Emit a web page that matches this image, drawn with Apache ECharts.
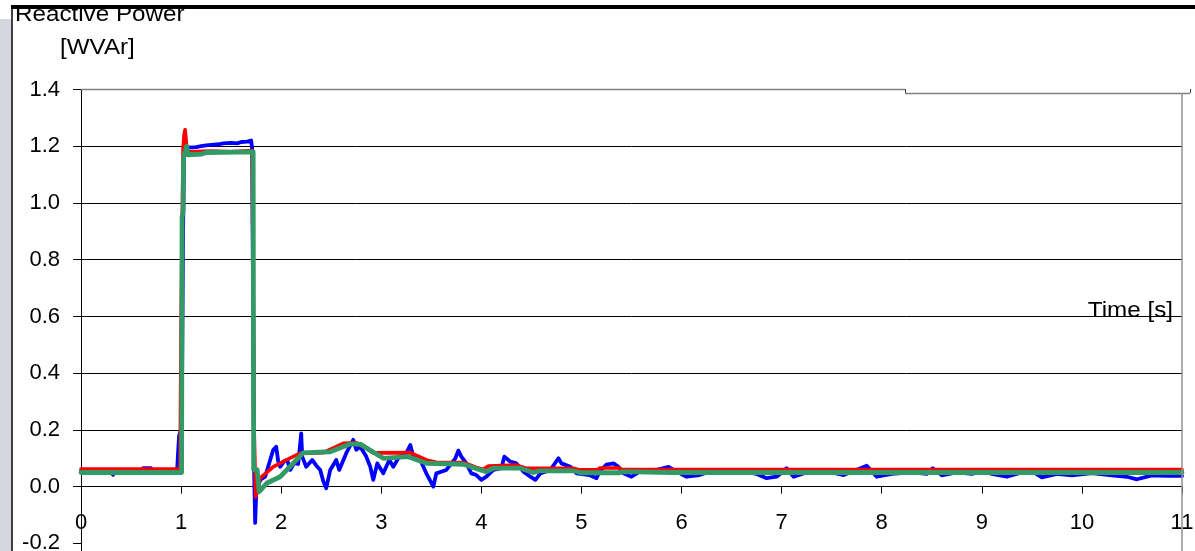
<!DOCTYPE html>
<html>
<head>
<meta charset="utf-8">
<title>Reactive Power</title>
<script src="https://cdn.jsdelivr.net/npm/echarts@6/dist/echarts.min.js"></script>
<style>
  html, body { margin: 0; padding: 0; background: #ffffff; }
  #chart { width: 1195px; height: 551px; }
</style>
</head>
<body>
<div id="chart"></div>
<script>
// Axis ranges and tick labels
const X_MIN = 0, X_MAX = 11, X_STEP = 1;
const Y_MIN = -0.2, Y_MAX = 1.4, Y_STEP = 0.2;
const xTickLabels = ['0', '1', '2', '3', '4', '5', '6', '7', '8', '9', '10', '11'];
const yTickLabels = ['-0.2', '0.0', '0.2', '0.4', '0.6', '0.8', '1.0', '1.2', '1.4'];

// Measured reactive power [time s, value]
const measuredQ = [
  [0, 0.055], [0.3, 0.055], [0.32, 0.042], [0.34, 0.055], [0.6, 0.056], [0.62, 0.065],
  [0.7, 0.065], [0.72, 0.056], [0.96, 0.056], [0.97, 0.12], [0.98, 0.18], [1.0, 0.2],
  [1.01, 0.38], [1.02, 0.9], [1.03, 1.19], [1.06, 1.195], [1.15, 1.197], [1.2, 1.2],
  [1.25, 1.203], [1.3, 1.205], [1.38, 1.207], [1.42, 1.21], [1.5, 1.212], [1.56, 1.21],
  [1.6, 1.215], [1.66, 1.216], [1.7, 1.22], [1.71, 1.19], [1.72, 0.6], [1.73, 0.05],
  [1.74, -0.128], [1.75, -0.03], [1.76, -0.012], [1.79, 0.024], [1.84, 0.035], [1.89, 0.094],
  [1.92, 0.129], [1.95, 0.141], [1.97, 0.09], [1.99, 0.07], [2.03, 0.09], [2.06, 0.094],
  [2.09, 0.059], [2.13, 0.083], [2.17, 0.08], [2.2, 0.188], [2.21, 0.106], [2.25, 0.07],
  [2.31, 0.094], [2.35, 0.075], [2.39, 0.059], [2.42, 0.02], [2.45, -0.006], [2.49, 0.059],
  [2.55, 0.094], [2.58, 0.059], [2.65, 0.118], [2.72, 0.165], [2.75, 0.13], [2.79, 0.141],
  [2.85, 0.106], [2.89, 0.07], [2.92, 0.024], [2.96, 0.082], [3.02, 0.047], [3.08, 0.094],
  [3.12, 0.07], [3.18, 0.106], [3.25, 0.118], [3.29, 0.147], [3.32, 0.106], [3.39, 0.094],
  [3.45, 0.047], [3.52, 0.0], [3.55, 0.047], [3.65, 0.059], [3.74, 0.1], [3.77, 0.127],
  [3.8, 0.106], [3.85, 0.082], [3.9, 0.047], [3.95, 0.041], [4.0, 0.024], [4.05, 0.035],
  [4.12, 0.059], [4.2, 0.065], [4.23, 0.106], [4.29, 0.088], [4.35, 0.082], [4.42, 0.053],
  [4.49, 0.035], [4.54, 0.024], [4.59, 0.047], [4.69, 0.059], [4.77, 0.1], [4.8, 0.082],
  [4.89, 0.07], [4.95, 0.047], [5.08, 0.041], [5.15, 0.03], [5.18, 0.053], [5.25, 0.078],
  [5.32, 0.082], [5.37, 0.07], [5.42, 0.047], [5.5, 0.035], [5.58, 0.053], [5.75, 0.059],
  [5.87, 0.07], [5.95, 0.053], [6.05, 0.035], [6.18, 0.041], [6.3, 0.055], [6.45, 0.05],
  [6.6, 0.055], [6.75, 0.045], [6.85, 0.03], [6.95, 0.035], [7.05, 0.065], [7.12, 0.035],
  [7.25, 0.05], [7.4, 0.055], [7.5, 0.05], [7.62, 0.041], [7.72, 0.055], [7.85, 0.074],
  [7.95, 0.035], [8.1, 0.045], [8.3, 0.05], [8.45, 0.045], [8.51, 0.065], [8.6, 0.04],
  [8.75, 0.05], [8.9, 0.045], [9.0, 0.055], [9.1, 0.045], [9.25, 0.035], [9.4, 0.05],
  [9.5, 0.055], [9.6, 0.033], [9.75, 0.045], [9.9, 0.04], [10.1, 0.048], [10.3, 0.04],
  [10.45, 0.035], [10.55, 0.026], [10.7, 0.04], [10.85, 0.038], [11, 0.038]
];

// Reference (set-point) reactive power
const setpointQ = [
  [0, 0.062], [0.99, 0.062], [1.0, 0.58], [1.02, 1.19], [1.03, 1.24], [1.04, 1.258],
  [1.05, 1.22], [1.06, 1.18], [1.3, 1.183], [1.5, 1.18], [1.71, 1.185], [1.72, 0.7],
  [1.73, 0.2], [1.745, -0.036], [1.755, -0.035], [1.79, 0.03], [1.92, 0.07], [2.05, 0.094],
  [2.19, 0.118], [2.42, 0.12], [2.55, 0.141], [2.62, 0.153], [2.75, 0.155], [2.85, 0.135],
  [2.92, 0.119], [3.29, 0.12], [3.45, 0.094], [3.55, 0.086], [3.82, 0.085], [3.95, 0.068],
  [4.02, 0.061], [4.07, 0.073], [4.35, 0.076], [4.45, 0.065], [4.92, 0.065], [4.98, 0.059],
  [5.16, 0.059], [5.18, 0.066], [5.38, 0.066], [5.4, 0.06], [11, 0.06]
];

// Simulated reactive power
const modelQ = [
  [0, 0.05], [1.005, 0.05], [1.01, 0.95], [1.02, 0.97], [1.025, 1.16], [1.056, 1.2],
  [1.07, 1.17], [1.2, 1.172], [1.25, 1.178], [1.72, 1.18], [1.725, 0.06], [1.76, 0.06],
  [1.78, -0.018], [1.855, 0.012], [1.99, 0.035], [2.22, 0.119], [2.49, 0.123], [2.69, 0.15],
  [2.79, 0.15], [3.02, 0.1], [3.26, 0.106], [3.46, 0.082], [3.82, 0.079], [3.99, 0.059],
  [4.05, 0.053], [4.12, 0.065], [4.39, 0.065], [4.52, 0.05], [4.58, 0.056], [4.92, 0.056],
  [4.99, 0.049], [5.38, 0.049], [5.42, 0.053], [5.9, 0.05], [11, 0.05]
];

const FONT = '"Liberation Sans", Arial, sans-serif';
const chart = echarts.init(document.getElementById('chart'), null, { renderer: 'canvas' });

function lineSeries(name, data, color, width, z) {
  return {
    name: name, type: 'line', data: data, symbol: 'none', z: z,
    lineStyle: { color: color, width: width, join: 'round', cap: 'round' },
    silent: true
  };
}

const xLabelFormatter = v => xTickLabels[Math.round((v - X_MIN) / X_STEP)];

chart.setOption({
  animation: false,
  backgroundColor: '#ffffff',
  grid: { left: 81, right: 13, top: 89.5, bottom: 7.6, outerBoundsMode: 'none', containLabel: false },
  xAxis: [
    {
      // time axis crossing at Q = 0, with downward ticks
      type: 'value', min: X_MIN, max: X_MAX, interval: X_STEP,
      axisLine: { onZero: true, lineStyle: { color: '#000', width: 1 } },
      axisTick: { show: true, length: 7, lineStyle: { color: '#000' } },
      axisLabel: { show: false },
      splitLine: { show: false }
    },
    {
      // tick labels of the time axis, below the zero line
      type: 'value', min: X_MIN, max: X_MAX, interval: X_STEP, position: 'bottom',
      axisLine: { show: false, onZero: false },
      axisTick: { show: false },
      axisLabel: {
        show: true, margin: -31, color: '#000', fontFamily: FONT, fontSize: 22,
        showMinLabel: true, showMaxLabel: true, hideOverlap: false,
        formatter: xLabelFormatter
      },
      splitLine: { show: false }
    }
  ],
  yAxis: {
    type: 'value', min: Y_MIN, max: Y_MAX, interval: Y_STEP,
    axisLine: { show: true, onZero: false, lineStyle: { color: '#000', width: 1 } },
    axisTick: { show: true, length: 8, lineStyle: { color: '#000' } },
    axisLabel: {
      margin: 21, color: '#000', fontFamily: FONT, fontSize: 22,
      formatter: v => yTickLabels[Math.round((v - Y_MIN) / Y_STEP)]
    },
    splitLine: { show: true, showMinLine: false, showMaxLine: false, lineStyle: { color: '#000', width: 1 } }
  },
  series: [
    lineSeries('Measured', measuredQ, '#0000ff', 3.8, 2),
    lineSeries('Set-point', setpointQ, '#ff0000', 3.6, 3),
    lineSeries('Simulation', modelQ, '#339966', 4.8, 4)
  ],
  graphic: [
    // left margin band and frame
    { type: 'rect', left: 0, top: 19, shape: { width: 11, height: 532 }, style: { fill: '#d4d7df' }, z: 0, silent: true },
    { type: 'text', left: 15, top: 4, scaleX: 1.1, style: { text: 'Reactive Power', font: '22px ' + FONT, fill: '#000' }, z: 10, silent: true },
    { type: 'text', left: 60, top: 37, scaleX: 1.1, style: { text: '[WVAr]', font: '22px ' + FONT, fill: '#000' }, z: 10, silent: true },
    { type: 'text', right: 22, top: 300, scaleX: 1.1, style: { text: 'Time [s]', font: '22px ' + FONT, fill: '#000' }, z: 10, silent: true },
    { type: 'rect', shape: { x: 11, y: 5, width: 1184, height: 4 }, style: { fill: '#000' }, z: 20, silent: true },
    { type: 'line', shape: { x1: 12, y1: 5, x2: 12, y2: 551 }, style: { stroke: '#000', lineWidth: 1.5 }, z: 20, silent: true },
    // plot frame: top edge, legend notch and right edge
    { type: 'line', shape: { x1: 81, y1: 89.5, x2: 905, y2: 89.5 }, style: { stroke: '#808080', lineWidth: 1.5 }, z: 20, silent: true },
    { type: 'line', shape: { x1: 905.5, y1: 89, x2: 905.5, y2: 93 }, style: { stroke: '#404040', lineWidth: 1 }, z: 20, silent: true },
    { type: 'line', shape: { x1: 905, y1: 93.5, x2: 1190, y2: 93.5 }, style: { stroke: '#808080', lineWidth: 1.5 }, z: 20, silent: true },
    { type: 'line', shape: { x1: 1190.5, y1: 89, x2: 1190.5, y2: 93 }, style: { stroke: '#404040', lineWidth: 1 }, z: 20, silent: true },
    { type: 'line', shape: { x1: 1182, y1: 93, x2: 1182, y2: 551 }, style: { stroke: '#909090', lineWidth: 1.5 }, z: 20, silent: true },
    { type: 'line', shape: { x1: 81.5, y1: 543, x2: 81.5, y2: 551 }, style: { stroke: '#000', lineWidth: 1 }, z: 20, silent: true }
  ]
});
</script>
</body>
</html>
